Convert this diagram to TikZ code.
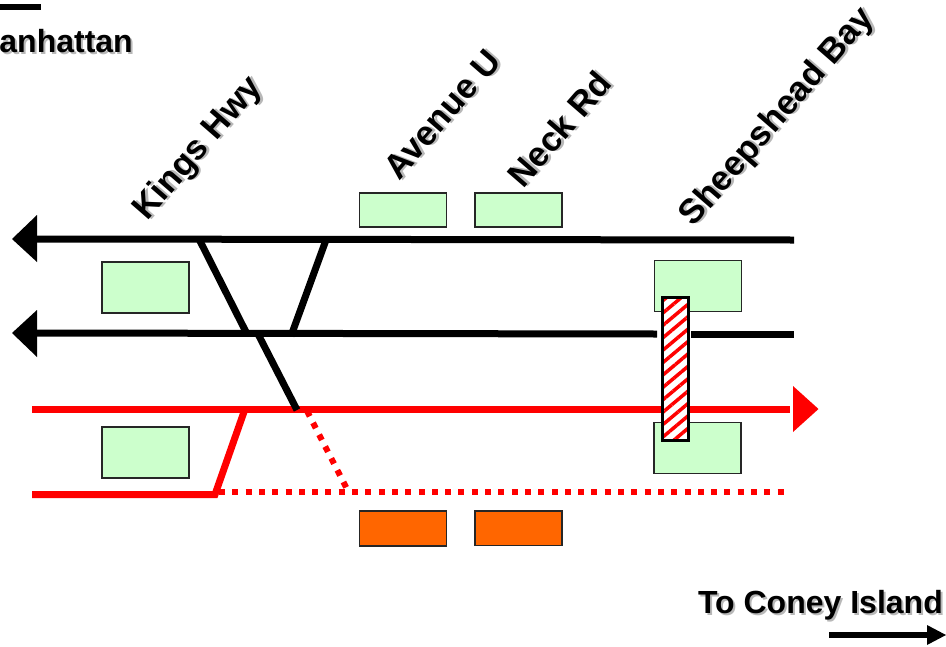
\documentclass[tikz,border=0pt]{standalone}
\usepackage{fontspec}
\setmainfont{Liberation Sans}
\usetikzlibrary{patterns.meta}
\definecolor{stgreen}{HTML}{CCFFCC}
\definecolor{storange}{HTML}{FF6600}
\definecolor{txtshadow}{HTML}{B8B8B8}
\newcommand{\shadowed}[1]{\leavevmode\rlap{\raisebox{-2pt}{\hspace{2pt}\textcolor{txtshadow}{#1}}}#1}
\tikzset{
  x=1pt,y=-1pt,
  platform/.style={draw=black!85,line width=1.6pt,fill=stgreen,minimum width=87pt,inner sep=0pt,outer sep=0pt,anchor=north west},
  closedplat/.style={platform,fill=storange},
  label/.style={font=\bfseries\fontsize{32}{32}\selectfont,inner sep=0pt},
  stn/.style={font=\bfseries\fontsize{34.5}{34.5}\selectfont,inner sep=0pt,rotate=49},
  blacktrack/.style={draw=black,line width=7pt},
  redtrack/.style={draw=red,line width=7pt},
  reddots/.style={draw=red,line width=6pt,dash pattern=on 6pt off 7.3pt},
  headblack/.style={fill=black,draw=none},
  headred/.style={fill=red,draw=none}
}
\begin{document}
\begin{tikzpicture}
\useasboundingbox (0,0) rectangle (946,646);
% platforms
\node[platform,minimum height=34pt] (pa) at (359.5,193) {};
\node[platform,minimum height=34pt] (pb) at (475,193) {};
\node[platform,minimum height=51pt] (pc) at (102,262) {};
\node[platform,minimum height=51pt] (pd) at (654.5,260.5) {};
\node[platform,minimum height=51pt] (pe) at (102,427) {};
\node[platform,minimum height=51pt] (pf) at (654,422.5) {};
\node[closedplat,minimum height=35pt] (pg) at (359.5,511) {};
\node[closedplat,minimum height=34.5pt] (ph) at (475,511) {};
% track ends
\coordinate (t1l) at (36,239);
\coordinate (t1r) at (794,240);
\coordinate (t2l) at (36,333);
\coordinate (t2gl) at (657,334);
\coordinate (t2gr) at (691,334);
\coordinate (t2r) at (794,334);
\coordinate (t3l) at (32,409);
\coordinate (t3r) at (790,409);
\coordinate (t4l) at (32,494.5);
\coordinate (t4j) at (215,494.5);
\coordinate (t4u) at (245,409);
\coordinate (d1l) at (219,492);
\coordinate (d1r) at (784,492);
\coordinate (d2a) at (307,411);
\coordinate (d2b) at (347,489);
\coordinate (x1a) at (199,239);
\coordinate (x1b) at (246,332);
\coordinate (x2a) at (258,334);
\coordinate (x2b) at (297,410);
\coordinate (x3a) at (326,240);
\coordinate (x3b) at (291,336);
% red tracks
\draw[redtrack] (t3l) -- (t3r);
\draw[redtrack,line join=miter] (t4l) -- (t4j) -- (t4u);
\draw[reddots] (d1l) -- (d1r);
\draw[reddots] (d2a) -- (d2b);
\fill[headred] (818.5,409) -- (793,386) -- (793,432) -- cycle;
% black tracks
\draw[blacktrack] (t1l) -- (t1r);
\draw[blacktrack] (t2l) -- (t2gl);
\draw[blacktrack] (t2gr) -- (t2r);
\draw[blacktrack] (x1a) -- (x1b);
\draw[blacktrack] (x2a) -- (x2b);
\draw[blacktrack] (x3a) -- (x3b);
\fill[headblack] (12,239) -- (37,215) -- (37,262) -- cycle;
\fill[headblack] (12,333) -- (37,310) -- (37,357) -- cycle;
% bridge
\fill[white] (661,296) rectangle (687,439);
\node[draw=black,line width=3pt,minimum width=25.5pt,minimum height=143pt,inner sep=0pt,anchor=north west,
  pattern={Lines[angle=40,distance=9.5pt,line width=3.5pt]},pattern color=red] (bridge) at (661,296) {};
% labels
\node[stn] (kh) at (199.5,149.5) {\shadowed{Kings Hwy}};
\node[stn] (au) at (443,115) {\shadowed{Avenue U}};
\node[stn] (nr) at (560,129.5) {\shadowed{Neck Rd}};
\node[stn] (sb) at (778.5,118) {\shadowed{Sheepshead Bay}};
\node[label,anchor=base east] (mh) at (133,52.5) {\shadowed{anhattan}};
\node[label,anchor=base east] (ci) at (943,613) {\shadowed{To Coney Island}};
% direction arrows
\coordinate (ma) at (0,7);
\coordinate (mb) at (41,7);
\draw[line width=6pt] (ma) -- (mb);
\coordinate (ca) at (829,635);
\coordinate (cb) at (928,635);
\draw[line width=6pt] (ca) -- (cb);
\fill[black] (946,635) -- (927,625) -- (927,645) -- cycle;
\end{tikzpicture}
\end{document}
